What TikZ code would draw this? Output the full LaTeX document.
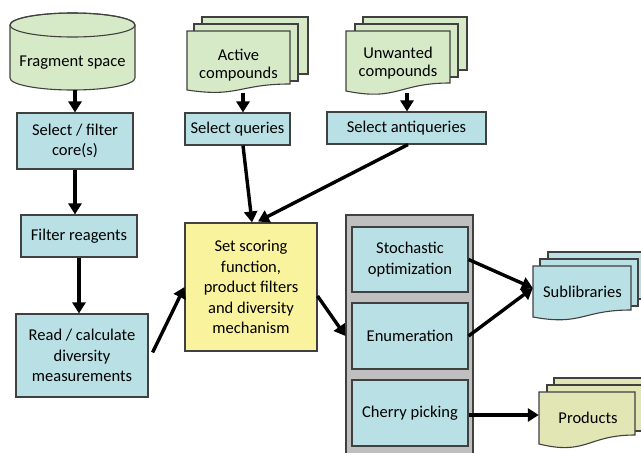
\documentclass[tikz,border=0pt]{standalone}
\usepackage{fontspec}
\setmainfont{Carlito}
\usetikzlibrary{arrows.meta,calc}
\definecolor{bluef}{HTML}{B9E0E4}
\definecolor{greenf}{HTML}{D6EAC7}
\definecolor{yellowf}{HTML}{F9F39D}
\definecolor{prodf}{HTML}{E2E5B4}
\definecolor{grayf}{HTML}{BFBFBF}
\definecolor{bd}{HTML}{404040}
% document page with wavy bottom: fill, x1, top, x2, right-bottom, left-bottom
\newcommand\docpage[6]{%
  \filldraw[fill=#1,draw=bd,line width=1.1pt] (#2,#3) -- (#4,#3) -- (#4,#5)
    .. controls ({(#2+#4)/2},#5) and ({(#2+#4)/2},{#6+1.3*(#6-#5)}) .. (#2,#6) -- cycle;}
\newcommand\backpage[5]{%
  \filldraw[fill=#1,draw=bd,line width=1.1pt] (#2,#3) rectangle (#4,#5);}
\begin{document}
\begin{tikzpicture}[x=1pt,y=-1pt,
  font=\fontsize{16.5}{20.5}\selectfont,
  box/.style={draw=bd, line width=1.1pt, fill=bluef, align=center, inner sep=0pt},
  ghost/.style={draw=none, fill=none, inner sep=0pt},
  lbl/.style={align=center, inner sep=0pt},
  arr/.style={line width=3.4pt, -{Triangle[width=13pt,length=11pt]}}]
\useasboundingbox (0,0) rectangle (641,453);

% ---- Fragment space cylinder
\filldraw[fill=greenf, draw=bd, line width=1.1pt] (10,25) -- (10,78) arc (180:0:62.5 and 12) -- (135,25) arc (0:-180:62.5 and 12) -- cycle;
\draw[bd, line width=1.1pt] (72.5,25) ellipse (62.5 and 12);
\node[ghost, minimum width=125, minimum height=77] (frag) at (72.5,51.5) {};
\node[lbl] (fragtext) at (72.5,63) {Fragment space};

% ---- Active compounds stack
\backpage{greenf}{202}{17}{308}{74}
\backpage{greenf}{194}{24}{298}{81}
\docpage{greenf}{187}{31}{290}{84}{90}
\node[ghost, minimum width=103, minimum height=62] (ac) at (238.5,62) {};
\node[lbl, font=\fontsize{16.5}{18.5}\selectfont] (actext) at (238.5,65) {Active\\compounds};

% ---- Unwanted compounds stack
\backpage{greenf}{363}{17}{467}{70}
\backpage{greenf}{355}{24}{458}{77}
\docpage{greenf}{346}{31}{450}{83}{91}
\node[ghost, minimum width=104, minimum height=62] (uc) at (398,62) {};
\node[lbl, font=\fontsize{16.5}{18.5}\selectfont] (uctext) at (398,63) {Unwanted\\compounds};

% ---- Sublibraries stack
\backpage{bluef}{548}{252}{648}{299}
\backpage{bluef}{540}{259}{638}{306}
\docpage{bluef}{533}{266}{631}{310}{317}
\node[ghost, minimum width=98, minimum height=53] (sub) at (582,292) {};
\node[lbl] (subtext) at (582.5,292) {Sublibraries};

% ---- Products stack
\backpage{prodf}{554}{378}{650}{424}
\backpage{prodf}{547}{385}{642}{431}
\docpage{prodf}{539}{392}{635}{435}{444}
\node[ghost, minimum width=96, minimum height=52] (prod) at (587,418) {};
\node[lbl] (prodtext) at (588,418) {Products};

% ---- Boxes
\node[box, minimum width=116, minimum height=56] (sel) at (75,141) {Select / filter\\core(s)};
\node[box, minimum width=116, minimum height=42] (filt) at (79,236) {Filter reagents};
\node[box, minimum width=132, minimum height=83] (read) at (82,355.5) {Read / calculate\\diversity\\measurements};
\node[box, fill=yellowf, minimum width=132, minimum height=128] (yel) at (251,287) {Set scoring\\function,\\product filters\\and diversity\\mechanism};
\node[box, minimum width=105, minimum height=32] (sq) at (237.5,129) {Select queries};
\node[box, minimum width=159, minimum height=32] (saq) at (406.5,128) {Select antiqueries};

\node[box, fill=grayf, minimum width=127, minimum height=250] (grp) at (409.5,340) {};
\node[box, minimum width=116, minimum height=65] (sto) at (410,259.5) {Stochastic\\optimization};
\node[box, minimum width=116, minimum height=66] (enu) at (410,336) {Enumeration};
\node[box, minimum width=116, minimum height=66] (che) at (410,413) {Cherry picking};

% ---- Connector end points
\coordinate (acb) at ($(ac.south)+(4.5,0)$);
\coordinate (ucb) at ($(uc.south)+(9,0)$);
\coordinate (sqb) at ($(sq.south)+(5.5,0)$);
\coordinate (saqb) at ($(saq.south)+(1.5,0)$);
\coordinate (yelt1) at ($(yel.north)+(1,0)$);
\coordinate (yelt2) at ($(yel.north)+(7,-1)$);
\coordinate (readr) at ($(read.east)+(4,-3)$);
\coordinate (yelr) at ($(yel.east)+(0,9)$);
\coordinate (subin) at ($(sub.west)+(0,-4)$);
\coordinate (cher) at ($(che.east)+(0,2)$);

% ---- Connectors
\draw[arr] (sel.north |- frag.south) -- (sel.north);
\draw[arr] (sel.south) -- (sel.south |- filt.north);
\draw[arr] (filt.south) -- (filt.south |- read.north);
\draw[arr] (readr) -- (yel.west);
\draw[arr] (acb) -- (acb |- sq.north);
\draw[arr] (ucb) -- (ucb |- saq.north);
\draw[arr] (sqb) -- (yelt1);
\draw[arr] (saqb) -- (yelt2);
\draw[arr] (yelr) -- (grp.west |- enu.west);
\draw[arr] (sto.east) -- (subin);
\draw[arr] (enu.east) -- (subin);
\draw[arr] (cher) -- (cher -| prod.west);
\end{tikzpicture}
\end{document}
